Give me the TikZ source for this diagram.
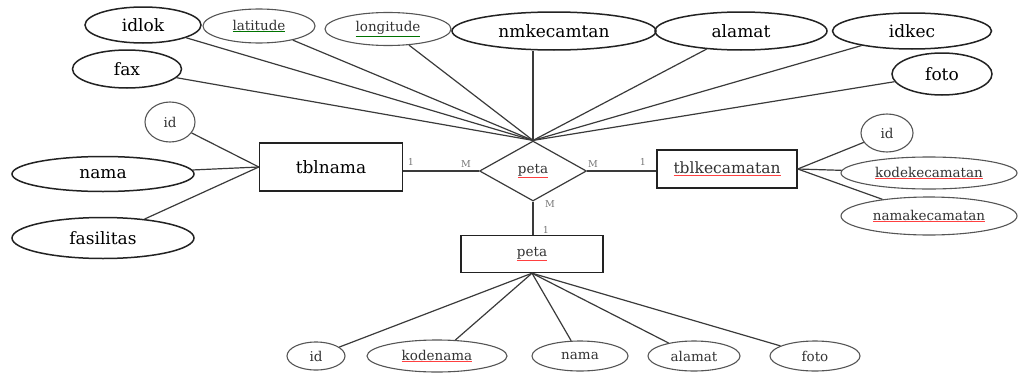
\documentclass[tikz,border=0pt]{standalone}
\usepackage{fontspec}
\setmainfont{DejaVu Serif}
\usetikzlibrary{shapes.geometric}
\definecolor{ln}{HTML}{3A3A3A}
\definecolor{lnb}{HTML}{222222}
\definecolor{lns}{HTML}{555555}
\definecolor{sm}{HTML}{333333}
\definecolor{card}{HTML}{777777}
\newcommand{\redul}[1]{{\color{red!75}\underline{\color{sm}#1}}}
\newcommand{\grnul}[1]{{\color{green!45!black}\underline{\color{sm}#1}}}
\tikzset{
  big/.style={font=\fontsize{17}{19}\selectfont, text=black},
  small/.style={font=\fontsize{13.5}{15}\selectfont, text=sm},
  mid/.style={font=\fontsize{15.5}{17}\selectfont, text=sm},
  attb/.style={draw=lnb, line width=1.5pt, ellipse, inner sep=0pt, big},
  atts/.style={draw=lns, line width=1.1pt, ellipse, inner sep=0pt, small},
  ent/.style={draw=lnb, line width=1.4pt, rectangle, inner sep=0pt},
  rel/.style={draw=ln, line width=1.2pt, diamond, inner sep=0pt, aspect=1.78},
  conn/.style={draw=ln, line width=1.2pt},
  cardl/.style={font=\fontsize{9.5}{10}\selectfont, text=card, inner sep=0pt}
}
\begin{document}
\begin{tikzpicture}[x=1pt,y=-1pt]
\useasboundingbox (0,0) rectangle (1019,372);
% top attributes
\node[attb,minimum width=116pt,minimum height=36pt] (idlok) at (143,25) {idlok};
\node[atts,minimum width=112pt,minimum height=34pt] (lat) at (259,26) {\grnul{latitude}};
\node[atts,minimum width=126pt,minimum height=33pt] (lon) at (388,29) {\grnul{longitude}};
\node[attb,minimum width=204pt,minimum height=38pt] (nmk) at (554,31) {nmkecamtan};
\node[attb,minimum width=172pt,minimum height=38pt] (alt) at (741,31) {alamat};
\node[attb,minimum width=159pt,minimum height=36pt] (idk) at (912,31) {idkec};
\node[attb,minimum width=100pt,minimum height=42pt] (fotoT) at (942,74) {foto};
\node[attb,minimum width=109pt,minimum height=38pt] (fax) at (127,69) {fax};
% left attributes
\node[atts,minimum width=50pt,minimum height=40pt] (idL) at (170,122) {id};
\node[attb,minimum width=182pt,minimum height=35pt] (namaL) at (103,174) {nama};
\node[attb,minimum width=182pt,minimum height=41pt] (fas) at (103,238) {fasilitas};
% entities and relation
\node[ent,big,minimum width=143pt,minimum height=48pt] (tn) at (331,167) {tblnama};
\node[rel,small,minimum width=107pt,minimum height=60pt] (dm) at (533,171) {\redul{peta}};
\node[ent,mid,minimum width=140pt,minimum height=38pt] (tk) at (727,169) {\redul{tblkecamatan}};
\node[ent,small,minimum width=142pt,minimum height=37pt] (pb) at (532,254) {\redul{peta}};
% right attributes
\node[atts,minimum width=52pt,minimum height=38pt] (idR) at (887,133) {id};
\node[atts,minimum width=176pt,minimum height=32pt] (kk) at (929,173) {\redul{kodekecamatan}};
\node[atts,minimum width=176pt,minimum height=38pt] (nk) at (929,216) {\redul{namakecamatan}};
% bottom attributes
\node[atts,minimum width=58pt,minimum height=28pt] (idB) at (316,356) {id};
\node[atts,minimum width=140pt,minimum height=32pt] (kn) at (437,356) {\redul{kodenama}};
\node[atts,minimum width=96pt,minimum height=30pt] (namaB) at (580,356) {nama};
\node[atts,minimum width=92pt,minimum height=30pt] (altB) at (694,356) {alamat};
\node[atts,minimum width=90pt,minimum height=30pt] (fotoB) at (815,356) {foto};
% connectors to relation top
\foreach \n in {idlok,lat,lon,alt,idk,fotoT,fax}{
  \draw[conn] (\n) -- (dm.north);
}
\draw[conn] (nmk.south -| dm.north) -- (dm.north);
% tblnama attributes
\foreach \n in {idL,namaL,fas}{
  \draw[conn] (\n) -- (tn.west);
}
% tblkecamatan attributes
\foreach \n in {idR,kk,nk}{
  \draw[conn] (\n) -- (tk.east);
}
% bottom peta attributes
\foreach \n in {idB,kn,namaB,altB,fotoB}{
  \draw[conn] (pb.south) -- (\n);
}
% relationships
\draw[conn] (tn.east |- dm.west) -- (dm.west);
\draw[conn] (dm.east) -- (tk.west |- dm.east);
\draw[conn] (dm.south) -- (dm.south |- pb.north);
% cardinalities
\node[cardl] (c1) at (411,162) {1};
\node[cardl] (c2) at (466,164) {M};
\node[cardl] (c3) at (593,164) {M};
\node[cardl] (c4) at (643,162) {1};
\node[cardl] (c5) at (550,204) {M};
\node[cardl] (c6) at (546,230) {1};
\end{tikzpicture}
\end{document}
